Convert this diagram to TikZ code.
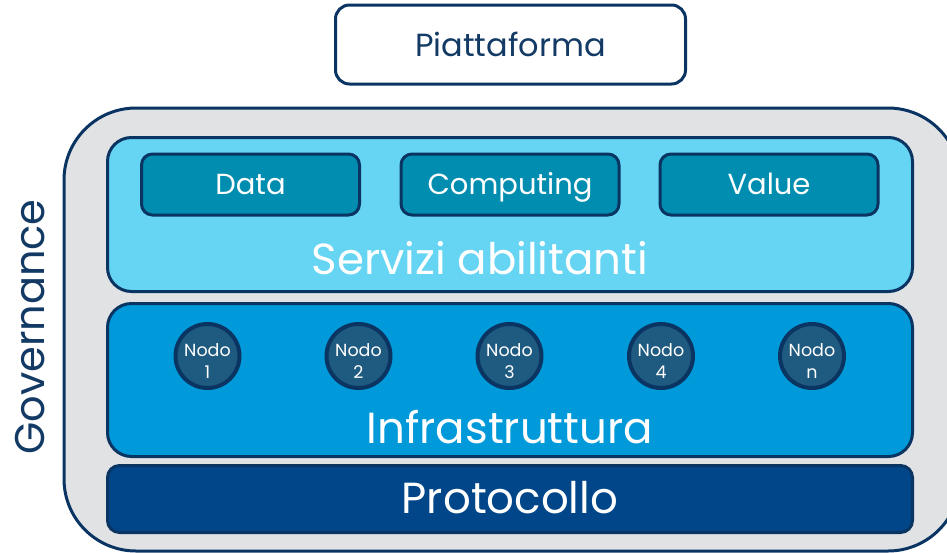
\documentclass[tikz,border=0pt]{standalone}
\usepackage{fontspec}
\setmainfont{Poppins}
\definecolor{navy}{HTML}{0A3462}
\definecolor{txtnavy}{HTML}{123A64}
\definecolor{outergray}{HTML}{E1E2E4}
\definecolor{servfill}{HTML}{66D4F3}
\definecolor{tealfill}{HTML}{008DB0}
\definecolor{infrafill}{HTML}{0099DA}
\definecolor{nodefill}{HTML}{1F5A80}
\definecolor{protofill}{HTML}{004689}
\tikzset{
  layer/.style={draw=navy, line width=3pt, rounded corners=24pt, minimum width=805pt, inner sep=0pt},
  tealbox/.style={draw=navy, line width=3pt, fill=tealfill, rounded corners=11pt, minimum width=218pt, minimum height=61pt, inner sep=0pt, text=white, text height=20.5pt, text depth=0pt, font=\fontsize{29}{32}\selectfont},
  nodocirc/.style={circle, draw=navy, line width=4pt, fill=nodefill, minimum size=64pt, inner sep=0pt},
  nodotext/.style={text=white, align=center, inner sep=0pt, font=\fontsize{17.5}{22.5}\selectfont},
  biglabel/.style={text=white, inner sep=0pt, font=\fontsize{43.5}{46}\selectfont}
}
\begin{document}
\begin{tikzpicture}[x=1pt,y=-1pt]
\useasboundingbox (0,0) rectangle (947,552);
\fill[white] (0,0) rectangle (947,552);
\begin{scope}
\clip (0,0) rectangle (947,552);
\draw[draw=navy, fill=outergray, line width=3pt, rounded corners=72pt] (64,108) rectangle (960,551);
\end{scope}
\node[draw=navy, line width=3pt, fill=white, rounded corners=14pt, minimum width=350pt, minimum height=79pt, inner sep=0pt, text=txtnavy, font=\fontsize{32}{35}\selectfont] (plat) at (510.5,44.5) {Piattaforma};
\node[rotate=90, text=txtnavy, inner sep=0pt, font=\fontsize{41.5}{44}\selectfont] (gov) at (30,327) {Governance};
\node[layer, fill=servfill, minimum height=154pt] (serv) at (510,214.5) {};
\node[layer, fill=infrafill, minimum height=153pt] (infra) at (510,380) {};
\node[layer, fill=protofill, rounded corners=12pt, minimum height=67pt] (proto) at (510,499) {};
\node[tealbox] (data) at (250.5,184.5) {Data};
\node[tealbox] (comp) at (510,184.5) {Computing};
\node[tealbox] (value) at (769,184.5) {Value};
\node[biglabel] (servlbl) at (480,258) {Servizi abilitanti};
\node[biglabel] (infralbl) at (510,427) {Infrastruttura};
\node[biglabel] (protolbl) at (510,498) {Protocollo};
\node[nodocirc] (n1) at (207.5,356) {};
\node[nodocirc] (n2) at (358.5,356) {};
\node[nodocirc] (n3) at (509.5,356) {};
\node[nodocirc] (n4) at (661,356) {};
\node[nodocirc] (n5) at (812,356) {};
\node[nodotext] (t1) at ([yshift=-5pt]n1.center) {Nodo\\1};
\node[nodotext] (t2) at ([yshift=-5pt]n2.center) {Nodo\\2};
\node[nodotext] (t3) at ([yshift=-5pt]n3.center) {Nodo\\3};
\node[nodotext] (t4) at ([yshift=-5pt]n4.center) {Nodo\\4};
\node[nodotext] (t5) at ([yshift=-5pt]n5.center) {Nodo\\n};
\end{tikzpicture}
\end{document}
